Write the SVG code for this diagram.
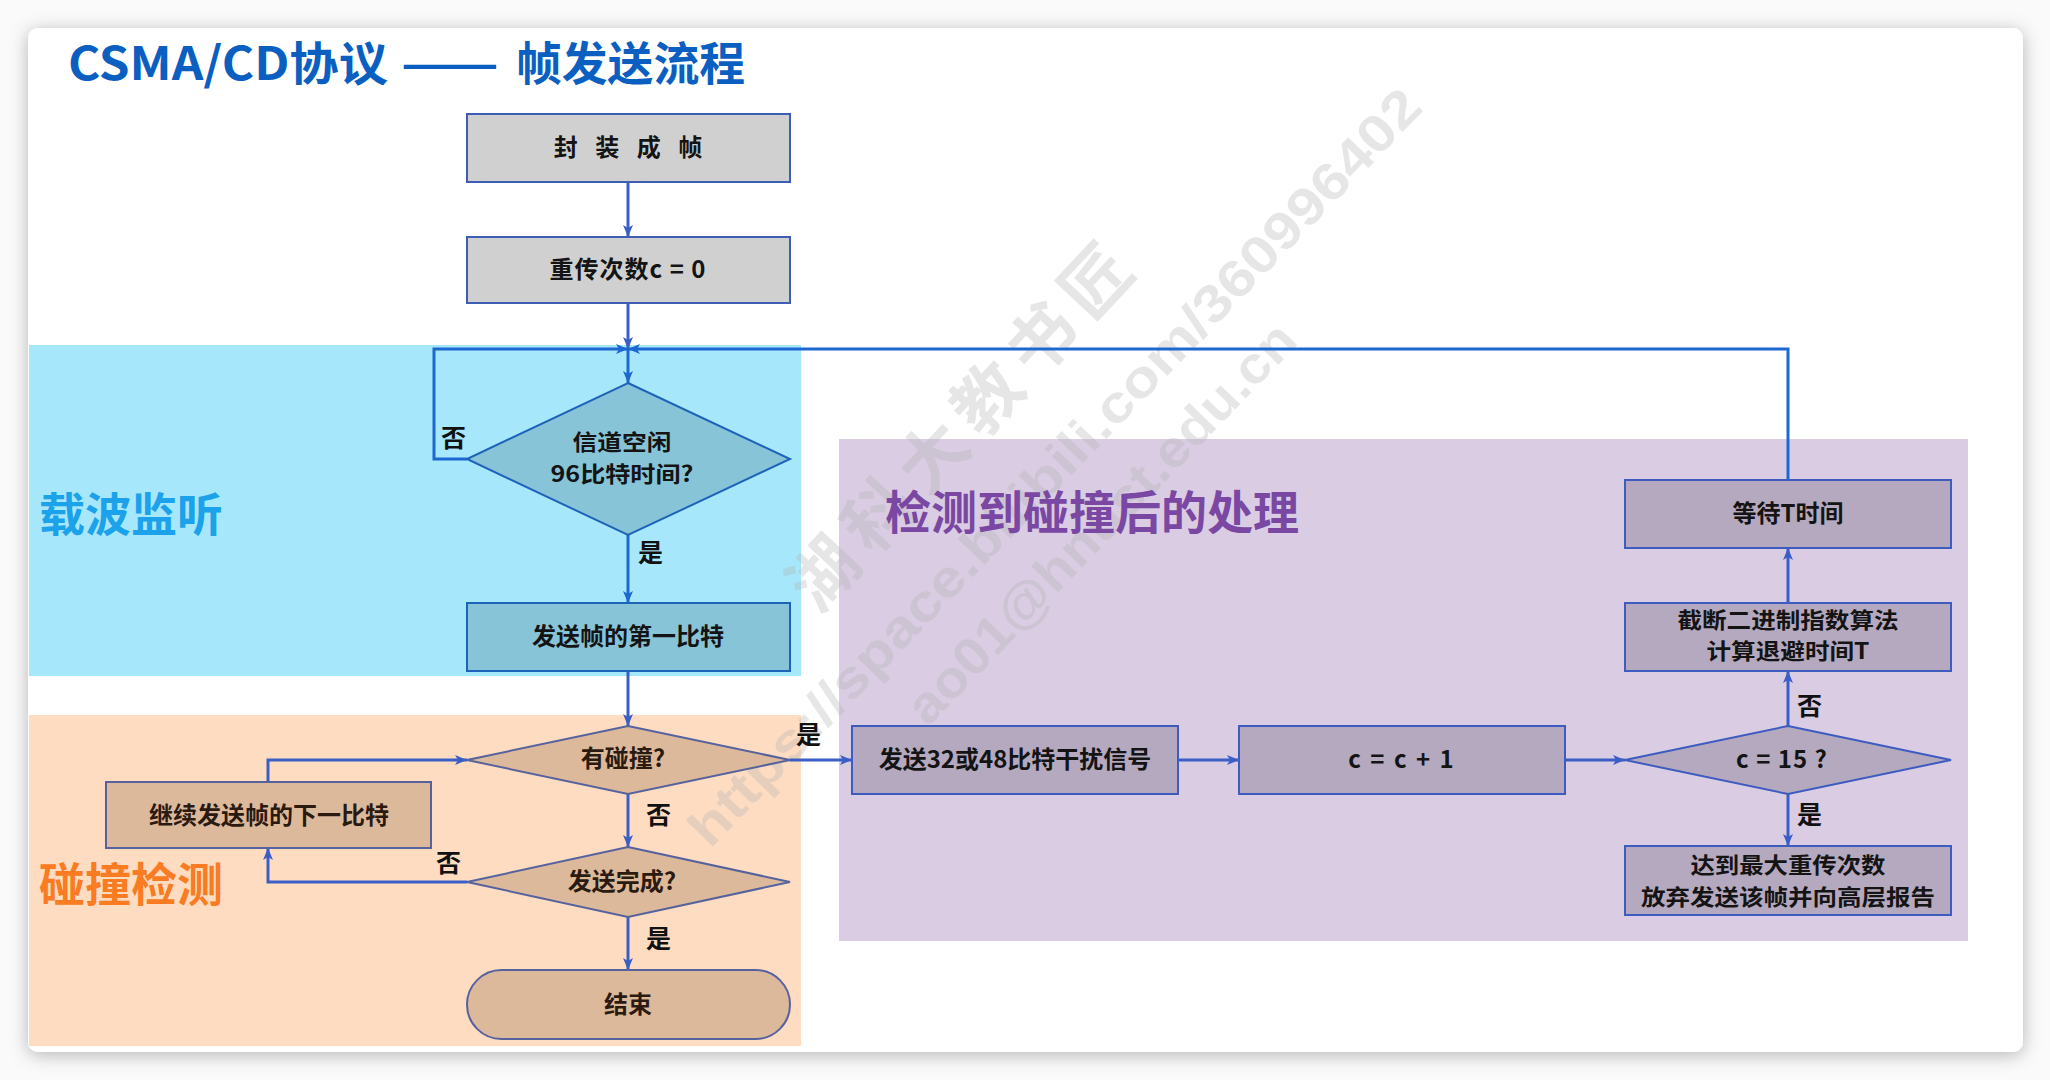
<svg xmlns="http://www.w3.org/2000/svg" width="2050" height="1080" viewBox="0 0 2050 1080">
<defs>
<filter id="sh" x="-5%" y="-5%" width="110%" height="110%">
<feDropShadow dx="0" dy="3" stdDeviation="9" flood-color="#000" flood-opacity="0.28"/>
</filter>
<marker id="ahb" markerUnits="userSpaceOnUse" markerWidth="13" markerHeight="11" refX="12" refY="5.5" orient="auto">
<path d="M0,0.5 L12,5.5 L0,10.5 L3,5.5 z" fill="#1C68D0"/>
</marker>
<marker id="ahp" markerUnits="userSpaceOnUse" markerWidth="13" markerHeight="11" refX="12" refY="5.5" orient="auto">
<path d="M0,0.5 L12,5.5 L0,10.5 L3,5.5 z" fill="#3A5EC6"/>
</marker>
</defs>
<style>
text{font-family:"Noto Sans CJK SC","Noto Sans",sans-serif;font-weight:bold}
.n{font-size:24px;fill:#141414;text-anchor:middle}
.n2{font-size:22px;fill:#141414;text-anchor:middle}
.nb{font-size:24px;fill:#2a1a10;text-anchor:middle}
.lbl{font-size:25px;fill:#111}
.sec{font-size:46px}
.gray{fill:#D0D0D0;stroke:#3F5DB3;stroke-width:2}
.blue{fill:#88C4D8;stroke:#1E63BA;stroke-width:2}
.tan{fill:#DDB99C;stroke:#56629E;stroke-width:2}
.pur{fill:#B5A9BF;stroke:#3E5CC0;stroke-width:2}
.c{fill:none;stroke:#3A5EC6;stroke-width:3;marker-end:url(#ahp)}
.cb{fill:none;stroke:#1C68D0;stroke-width:3;marker-end:url(#ahb)}
.wm{fill:#b4b4b4;opacity:0.32;font-family:"Liberation Sans",sans-serif;font-weight:bold}
</style>
<rect x="0" y="0" width="2050" height="1080" fill="#fafafa"/>
<rect x="28" y="28" width="1995" height="1024" rx="10" fill="#ffffff" filter="url(#sh)"/>

<g id="regions">
<rect x="29" y="345" width="772" height="331" fill="#A6E7FB"/>
<rect x="29" y="715" width="772" height="331" fill="#FDDCC1"/>
<rect x="839" y="439" width="1129" height="502" fill="#D9CCE3"/>
</g>

<g id="watermark">
<text class="wm" transform="translate(800,598) rotate(-47)" x="0" y="25" style="font-family:'Noto Sans CJK SC',sans-serif;font-size:68px;letter-spacing:12px">湖科大教书匠</text>
<text class="wm" transform="translate(697,837) rotate(-46)" x="0" y="18" font-size="52" textLength="1029" lengthAdjust="spacingAndGlyphs">https://space.bilibili.com/360996402</text>
<text class="wm" transform="translate(915,715) rotate(-46)" x="0" y="18" font-size="52" textLength="535" lengthAdjust="spacingAndGlyphs">ao01@hnust.edu.cn</text>
</g>

<g id="title">
<text class="sec" x="68" y="80" fill="#0B5FC0" textLength="320" lengthAdjust="spacingAndGlyphs">CSMA/CD协议</text>
<text class="sec" x="401" y="80" fill="#0B5FC0" textLength="98" lengthAdjust="spacingAndGlyphs">——</text>
<text class="sec" x="516" y="80" fill="#0B5FC0" textLength="229" lengthAdjust="spacingAndGlyphs">帧发送流程</text>
</g>
<g id="section-labels">
<text class="sec" x="39" y="531" fill="#1BA2EA">载波监听</text>
<text class="sec" x="39" y="901" fill="#F97B22">碰撞检测</text>
<text class="sec" x="885" y="529" fill="#7A48A2">检测到碰撞后的处理</text>
</g>

<g id="connectors">
<path class="c" d="M628,182 V237"/>
<path class="c" d="M628,303 V349"/>
<path class="cb" d="M628,349 V383"/>
<path class="cb" d="M467,459 H434 V349 H628"/>
<path class="cb" d="M1788,480 V349 H628"/>
<path class="cb" d="M628,535 V603"/>
<path class="c" d="M628,671 V726"/>
<path class="c" d="M790,760 H852"/>
<path class="c" d="M628,794 V847"/>
<path class="c" d="M467,882 H268 V848"/>
<path class="c" d="M268,782 V760 H467"/>
<path class="c" d="M628,917 V970"/>
<path class="c" d="M1178,760 H1239"/>
<path class="c" d="M1565,760 H1625"/>
<path class="c" d="M1788,726 V671"/>
<path class="c" d="M1788,794 V846"/>
<path class="c" d="M1788,603 V548"/>
</g>

<g id="edge-labels">
<text class="lbl" x="441" y="447">否</text>
<text class="lbl" x="638" y="562">是</text>
<text class="lbl" x="796" y="744">是</text>
<text class="lbl" x="646" y="824">否</text>
<text class="lbl" x="436" y="872">否</text>
<text class="lbl" x="646" y="948">是</text>
<text class="lbl" x="1797" y="715">否</text>
<text class="lbl" x="1797" y="824">是</text>
</g>

<g id="n-frame"><rect class="gray" x="467" y="114" width="323" height="68"/><text class="n" x="631" y="156" style="letter-spacing:6px" xml:space="preserve">封 装 成 帧</text></g>
<g id="n-init"><rect class="gray" x="467" y="237" width="323" height="66"/><text class="n" x="628" y="278" style="letter-spacing:1px">重传次数c = 0</text></g>
<g id="n-idle"><polygon class="blue" points="628,383 790,459 628,535 467,459"/><text class="n2" x="622" y="450" textLength="99" lengthAdjust="spacingAndGlyphs">信道空闲</text><text class="n2" x="622" y="482" textLength="143" lengthAdjust="spacingAndGlyphs">96比特时间?</text></g>
<g id="n-first"><rect class="blue" x="467" y="603" width="323" height="68"/><text class="n" x="628" y="645">发送帧的第一比特</text></g>
<g id="n-collide"><polygon class="tan" points="628,726 790,760 628,794 467,760"/><text class="nb" x="623" y="767">有碰撞?</text></g>
<g id="n-done"><polygon class="tan" points="628,847 790,882 628,917 467,882"/><text class="nb" x="622" y="890">发送完成?</text></g>
<g id="n-end"><rect class="tan" x="467" y="970" width="323" height="69" rx="34.5"/><text class="nb" x="628" y="1013">结束</text></g>
<g id="n-next"><rect class="tan" x="106" y="782" width="325" height="66"/><text class="nb" x="269" y="824">继续发送帧的下一比特</text></g>
<g id="n-jam"><rect class="pur" x="852" y="726" width="326" height="68"/><text class="n" x="1015" y="768">发送32或48比特干扰信号</text></g>
<g id="n-inc"><rect class="pur" x="1239" y="726" width="326" height="68"/><text class="n" x="1402" y="768" style="letter-spacing:2px">c = c + 1</text></g>
<g id="n-max"><polygon class="pur" points="1788,726 1951,760 1788,794 1625,760"/><text class="n" x="1782" y="768" style="letter-spacing:1px">c = 15 ?</text></g>
<g id="n-abort"><rect class="pur" x="1625" y="846" width="326" height="69"/><text class="n2" x="1788" y="873" textLength="195" lengthAdjust="spacingAndGlyphs">达到最大重传次数</text><text class="n2" x="1788" y="905" textLength="294" lengthAdjust="spacingAndGlyphs">放弃发送该帧并向高层报告</text></g>
<g id="n-backoff"><rect class="pur" x="1625" y="603" width="326" height="68"/><text class="n2" x="1788" y="628" textLength="221" lengthAdjust="spacingAndGlyphs">截断二进制指数算法</text><text class="n2" x="1788" y="659" textLength="163" lengthAdjust="spacingAndGlyphs">计算退避时间T</text></g>
<g id="n-wait"><rect class="pur" x="1625" y="480" width="326" height="68"/><text class="n" x="1788" y="522">等待T时间</text></g>
</svg>
